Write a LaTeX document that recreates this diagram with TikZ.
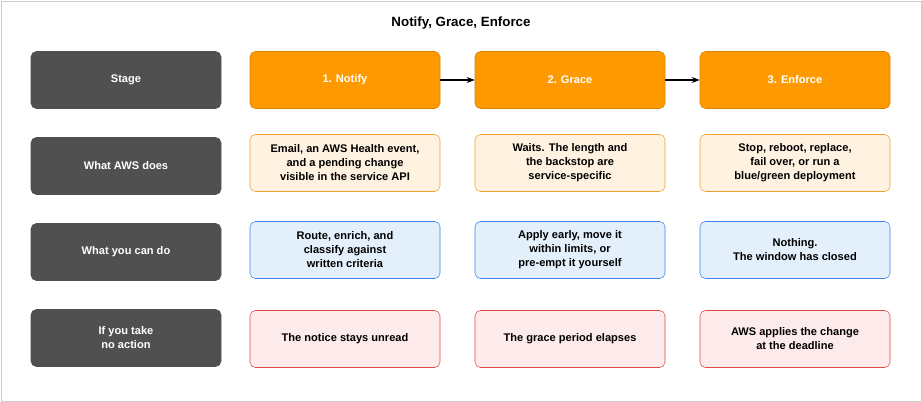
\documentclass[tikz,border=0pt]{standalone}
\usepackage{fontspec}
\setmainfont{Liberation Sans}
\usetikzlibrary{positioning,arrows.meta}
\definecolor{stagegray}{HTML}{505050}
\definecolor{awsorange}{HTML}{FF9900}
\definecolor{doesfill}{HTML}{FFF2E0}
\definecolor{doesline}{HTML}{F0A030}
\definecolor{canfill}{HTML}{E3F0FC}
\definecolor{canline}{HTML}{3C84E8}
\definecolor{nofill}{HTML}{FDEBEB}
\definecolor{noline}{HTML}{E04848}

\begin{document}
\begin{tikzpicture}[
    x=0.75pt, y=-0.75pt,
    box/.style={rounded corners=4pt, minimum width=142.5pt, minimum height=42.75pt, align=center, font=\fontsize{8.3}{10.5}\selectfont\bfseries, inner sep=2pt},
    rowhead/.style={box, fill=stagegray, draw=stagegray, text=white},
    phase/.style={box, fill=awsorange, draw=awsorange!85!black, text=white},
    does/.style={box, fill=doesfill, draw=doesline},
    can/.style={box, fill=canfill, draw=canline},
    none/.style={box, fill=nofill, draw=noline},
    arrow/.style={-{Stealth[length=6pt]}, thick}
]
    \draw[black!20, fill=white] (1,1) rectangle (921,401);
    \useasboundingbox (0,0) rectangle (922,402);
    \node[font=\fontsize{10}{12}\selectfont\bfseries] (title) at (461,23) {Notify, Grace, Enforce};

    % row headers
    \node[rowhead] (stage) at (126,80) {Stage};
    \node[rowhead] (does) at (126,166) {What AWS does};
    \node[rowhead] (can) at (126,252) {What you can do};
    \node[rowhead] (none) at (126,338) {If you take\\no action};

    % stages
    \node[phase] (notify) at (345,80) {1. Notify};
    \node[phase] (grace) at (570,80) {2. Grace};
    \node[phase] (enforce) at (795,80) {3. Enforce};

    \node[does] (notifydoes) at (345,163) {Email, an AWS Health event,\\and a pending change\\visible in the service API};
    \node[does] (gracedoes) at (570,163) {Waits. The length and\\the backstop are\\service-specific};
    \node[does] (enforcedoes) at (795,163) {Stop, reboot, replace,\\fail over, or run a\\blue/green deployment};

    \node[can] (notifycan) at (345,250) {Route, enrich, and\\classify against\\written criteria};
    \node[can] (gracecan) at (570,250) {Apply early, move it\\within limits, or\\pre-empt it yourself};
    \node[can] (enforcecan) at (795,250) {Nothing.\\The window has closed};

    \node[none] (notifynone) at (345,339) {The notice stays unread};
    \node[none] (gracenone) at (570,339) {The grace period elapses};
    \node[none] (enforcenone) at (795,339) {AWS applies the change\\at the deadline};

    \draw[arrow] (notify) -- (grace);
    \draw[arrow] (grace) -- (enforce);
\end{tikzpicture}
\end{document}
